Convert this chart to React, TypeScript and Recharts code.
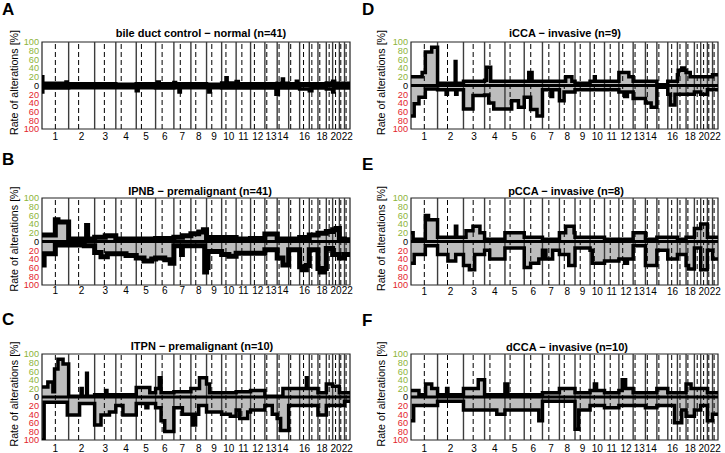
import React from 'react';
import { ComposedChart, Area, Line, XAxis, YAxis, ReferenceLine, ReferenceArea } from 'recharts';

type Seg = [number, number][];

const CHROMOSOMES = ['1','2','3','4','5','6','7','8','9','10','11','12','13','14','15','16','17','18','19','20','21','22'];
const CHR_LENGTH_MB = [249.25,243.2,198.02,191.15,180.92,171.12,159.14,146.36,141.21,135.53,135.01,133.85,115.17,107.35,102.53,90.35,81.2,78.08,59.13,63.03,48.13,51.3];
const CENTROMERE_MB = [125.0,93.3,91.0,50.4,48.4,61.0,59.9,45.6,49.0,40.2,53.7,35.8,17.9,17.6,19.0,36.6,24.0,17.2,26.5,27.5,13.2,14.7];
const LABELED_CHR = ['1','2','3','4','5','6','7','8','9','10','11','12','13','14','16','18','20','22'];
const Y_TICKS = [-100,-80,-60,-40,-20,0,20,40,60,80,100];

// gains / losses per chromosome: [fraction of chromosome where segment starts, % rate]
const controlGain: Seg[] = [
  [[0,20],[0.03,5],[0.9,8],[0.95,4]],[[0,4]],[[0,4]],[[0,3]],[[0,4]],[[0,4],[0.1,8],[0.2,4]],[[0,7],[0.1,4]],[[0,4]],[[0,3]],
  [[0,6],[0.3,18],[0.38,6]],[[0,9],[0.15,4]],[[0,4]],[[0,4]],[[0,5],[0.45,15],[0.55,5]],[[0,4],[0.7,10],[0.8,4]],[[0,4]],[[0,4]],[[0,4]],[[0,6]],[[0,10],[0.3,5]],[[0,5]],[[0,5]],
];
const controlLoss: Seg[] = [
  [[0,15],[0.03,6]],[[0,5]],[[0,5]],[[0,5]],[[0,12],[0.1,5]],[[0,6]],[[0,5],[0.3,15],[0.38,5]],[[0,5]],[[0,5],[0.15,15],[0.25,5]],[[0,6]],[[0,6]],[[0,6]],
  [[0,6],[0.9,20]],[[0,20],[0.1,6]],[[0,6]],[[0,8]],[[0,12],[0.3,6]],[[0,6]],[[0,8]],[[0,15],[0.2,6]],[[0,6]],[[0,6]],
];
const ipnbGain: Seg[] = [
  [[0,15],[0.5,50],[0.6,45]],[[0,6],[0.69,37],[0.73,6]],[[0,10],[0.5,13]],[[0,6]],[[0,6]],[[0,7]],[[0,10],[0.5,13]],[[0,18],[0.5,22],[0.8,27]],[[0,9]],[[0,9]],[[0,6]],[[0,7]],
  [[0,17]],[[0,6]],[[0,6]],[[0,9]],[[0,15]],[[0,19]],[[0,23]],[[0,27],[0.5,30]],[[0,6]],[[0,4]],
];
const ipnbLoss: Seg[] = [
  [[0,54],[0.08,28],[0.5,8]],[[0,8],[0.6,10]],[[0,25],[0.3,35],[0.6,28]],[[0,28],[0.5,32]],[[0,38],[0.4,45],[0.8,40]],[[0,38],[0.5,42],[0.8,50]],[[0,10],[0.45,30],[0.5,10]],[[0,10],[0.88,70]],
  [[0,60],[0.1,23]],[[0,30],[0.5,34]],[[0,27]],[[0,27]],[[0,19]],[[0,38],[0.5,54]],[[0,19]],[[0,58],[0.3,65],[0.7,55]],[[0,19]],[[0,62],[0.3,70],[0.8,62]],[[0,16]],[[0,30]],[[0,38]],[[0,30]],
];
const itpnGain: Seg[] = [
  [[0,23],[0.22,35],[0.41,12],[0.47,65],[0.6,88],[0.79,77]],[[0,2],[0.48,20],[0.52,2],[0.69,55],[0.72,2]],[[0,5],[0.52,15],[0.58,5]],[[0,5]],[[0,22],[0.7,10]],[[0,20],[0.2,45],[0.3,10]],
  [[0,12]],[[0,20],[0.55,45]],[[0,30],[0.2,10]],[[0,10]],[[0,12]],[[0,15]],[[0,2]],[[0,2],[0.5,20]],[[0,20]],[[0,20],[0.7,45],[0.78,20]],[[0,20]],[[0,10]],[[0,30]],[[0,25]],[[0,10]],[[0,10]],
];
const itpnLoss: Seg[] = [
  [[0,100],[0.08,12],[0.95,42]],[[0,42],[0.42,15]],[[0,65],[0.3,42],[0.7,35]],[[0,20],[0.35,42]],[[0,15],[0.5,25],[0.6,15]],[[0,25],[0.3,55],[0.5,80]],[[0,25],[0.5,40]],
  [[0,40],[0.1,65],[0.3,40],[0.5,20]],[[0,35]],[[0,40],[0.6,45]],[[0,30],[0.25,50],[0.8,35]],[[0,30]],[[0,20],[0.6,40]],[[0,50],[0.3,78]],[[0,20]],[[0,20]],[[0,20]],[[0,42]],[[0,20]],[[0,20]],[[0,20]],[[0,10]],
];
const iccaGain: Seg[] = [
  [[0,20],[0.42,30],[0.54,77],[0.78,88]],[[0,5],[0.68,55],[0.71,5]],[[0,10]],[[0,12],[0.1,42],[0.3,10]],[[0,10]],[[0,10],[0.25,30],[0.43,10]],[[0,10]],[[0,10],[0.4,20],[0.8,10]],[[0,5]],
  [[0,10],[0.3,20],[0.36,10]],[[0,10]],[[0,30],[0.7,20]],[[0,10]],[[0,10]],[[0,2]],[[0,10]],[[0,25],[0.1,35],[0.5,40],[0.8,35]],[[0,30],[0.5,20]],[[0,20]],[[0,20]],[[0,20]],[[0,25]],
];
const iccaLoss: Seg[] = [
  [[0,70],[0.12,42],[0.3,27],[0.54,8]],[[0,10],[0.33,20],[0.38,10],[0.7,20],[0.75,10]],[[0,54],[0.45,23]],[[0,22],[0.2,40],[0.45,54]],[[0,54],[0.35,35],[0.7,50]],[[0,27],[0.35,55],[0.7,70]],
  [[0,10],[0.5,25],[0.6,10]],[[0,35],[0.3,15]],[[0,10]],[[0,10]],[[0,10]],[[0,15],[0.4,25],[0.6,15]],[[0,30]],[[0,40],[0.5,50]],[[0,4]],[[0,20],[0.25,45],[0.75,20]],[[0,20]],[[0,20]],[[0,15]],[[0,20]],[[0,10]],[[0,10]],
];
const pccaGain: Seg[] = [
  [[0,20],[0.08,5],[0.54,60],[0.66,50]],[[0,10],[0.69,35],[0.74,10]],[[0,10],[0.12,25],[0.45,35],[0.78,20]],[[0,5]],[[0,20]],[[0,10]],[[0,5]],[[0,20],[0.4,35],[0.94,20]],[[0,10]],[[0,10]],[[0,5]],
  [[0,5]],[[0,20]],[[0,5]],[[0,10]],[[0,10]],[[0,5]],[[0,10]],[[0,30]],[[0,40]],[[0,10]],[[0,10]],
];
const pccaLoss: Seg[] = [
  [[0,50],[0.12,30],[0.54,10]],[[0,30],[0.4,45],[0.7,30]],[[0,55],[0.28,65],[0.53,30]],[[0,20],[0.25,40]],[[0,15]],[[0,60],[0.35,50],[0.8,40]],[[0,20],[0.2,40],[0.6,20]],[[0,30],[0.6,55]],
  [[0,15]],[[0,20],[0.15,50]],[[0,45]],[[0,40],[0.4,50],[0.6,40]],[[0,10]],[[0,55]],[[0,20]],[[0,40]],[[0,30]],[[0,55],[0.3,63]],[[0,15]],[[0,65]],[[0,20]],[[0,40]],
];
const dccaGain: Seg[] = [
  [[0,15],[0.3,5],[0.55,30],[0.78,20]],[[0,5],[0.35,20],[0.4,5]],[[0,20],[0.7,40]],[[0,5]],[[0,30],[0.15,5]],[[0,5]],[[0,10]],[[0,20]],[[0,10]],[[0,15],[0.3,30],[0.45,15]],[[0,10]],
  [[0,15],[0.23,40],[0.47,20]],[[0,10]],[[0,10]],[[0,20]],[[0,10]],[[0,10]],[[0,30],[0.6,20]],[[0,20]],[[0,20]],[[0,10]],[[0,10]],
];
const dccaLoss: Seg[] = [
  [[0,55],[0.1,20]],[[0,10]],[[0,30]],[[0,30],[0.6,40]],[[0,30]],[[0,30],[0.8,55]],[[0,10]],[[0,10]],[[0,75],[0.25,30]],[[0,20]],[[0,25]],[[0,20]],
  [[0,20]],[[0,25]],[[0,20]],[[0,20],[0.7,60]],[[0,60],[0.5,30]],[[0,45]],[[0,30]],[[0,20]],[[0,55]],[[0,40]],
];

const OFFSETS: number[] = CHR_LENGTH_MB.reduce((acc: number[], len, i) => { acc.push(i === 0 ? 0 : acc[i - 1] + CHR_LENGTH_MB[i - 1]); return acc; }, []);
const TOTAL = OFFSETS[21] + CHR_LENGTH_MB[21];
const BOUNDARIES = OFFSETS.slice(1);
const CENTROMERES = OFFSETS.map((o, i) => o + CENTROMERE_MB[i]);
const TICK_POS = LABELED_CHR.map((c) => { const i = CHROMOSOMES.indexOf(c); return OFFSETS[i] + CHR_LENGTH_MB[i] / 2; });

function toPoints(segs: Seg[]) {
  const pts: { x: number; v: number }[] = [];
  segs.forEach((list, ci) => list.forEach(([f, v]) => pts.push({ x: OFFSETS[ci] + f * CHR_LENGTH_MB[ci], v })));
  return pts;
}
function valueAt(pts: { x: number; v: number }[], x: number) {
  let v = pts[0].v;
  for (const p of pts) { if (p.x <= x + 1e-9) v = p.v; else break; }
  return v;
}
function buildRows(gain: Seg[], loss: Seg[]) {
  const gp = toPoints(gain);
  const lp = toPoints(loss);
  const xs = Array.from(new Set([...gp.map((p) => p.x), ...lp.map((p) => p.x), TOTAL])).sort((a, b) => a - b);
  return xs.map((x) => ({ x, gain: valueAt(gp, x), loss: -valueAt(lp, x) }));
}

const GREEN = '#8db43a';
const RED = '#e3232c';
const FONT = '"Liberation Sans", Arial, sans-serif';

type Cfg = {
  letter: string; title: string; gain: Seg[]; loss: Seg[]; lineW: number;
  chartLeft: number; chartWidth: number; plotLeft: number; plotRight: number;
  frameTop: number; frameBottom: number; labelBase: number;
  letterX: number; letterBase: number; titleX: number; titleBase: number; yLabelX: number; yLabelY: number;
};

const PANELS: Cfg[] = [
  { letter: 'A', title: 'bile duct control \u2212 normal (n=41)', gain: controlGain, loss: controlLoss, lineW: 3.5, chartLeft: 0, chartWidth: 362, plotLeft: 42, plotRight: 350, frameTop: 42, frameBottom: 129, labelBase: 140, letterX: 2, letterBase: 15, titleX: 201, titleBase: 37, yLabelX: 17.5, yLabelY: 82.5 },
  { letter: 'B', title: 'IPNB \u2212 premalignant (n=41)', gain: ipnbGain, loss: ipnbLoss, lineW: 5, chartLeft: 0, chartWidth: 362, plotLeft: 42, plotRight: 350, frameTop: 198, frameBottom: 285, labelBase: 294, letterX: 2, letterBase: 165, titleX: 200, titleBase: 194.5, yLabelX: 17.5, yLabelY: 239 },
  { letter: 'C', title: 'ITPN \u2212 premalignant (n=10)', gain: itpnGain, loss: itpnLoss, lineW: 3.5, chartLeft: 0, chartWidth: 362, plotLeft: 42, plotRight: 350, frameTop: 354, frameBottom: 440, labelBase: 451.5, letterX: 2, letterBase: 325, titleX: 202, titleBase: 350, yLabelX: 17.5, yLabelY: 394 },
  { letter: 'D', title: 'iCCA \u2212 invasive (n=9)', gain: iccaGain, loss: iccaLoss, lineW: 3.5, chartLeft: 360, chartWidth: 365, plotLeft: 411, plotRight: 718, frameTop: 42, frameBottom: 129, labelBase: 140, letterX: 362, letterBase: 15, titleX: 565, titleBase: 37, yLabelX: 385, yLabelY: 82.5 },
  { letter: 'E', title: 'pCCA \u2212 invasive (n=8)', gain: pccaGain, loss: pccaLoss, lineW: 3.5, chartLeft: 360, chartWidth: 365, plotLeft: 411, plotRight: 718, frameTop: 198, frameBottom: 285, labelBase: 295, letterX: 362, letterBase: 170, titleX: 566, titleBase: 195, yLabelX: 385, yLabelY: 238.5 },
  { letter: 'F', title: 'dCCA \u2212 invasive (n=10)', gain: dccaGain, loss: dccaLoss, lineW: 3.5, chartLeft: 360, chartWidth: 365, plotLeft: 411, plotRight: 718, frameTop: 354, frameBottom: 440, labelBase: 452, letterX: 362, letterBase: 326, titleX: 567, titleBase: 350.5, yLabelX: 385, yLabelY: 394 },
];

function Panel({ cfg }: { cfg: Cfg }) {
  const rows = buildRows(cfg.gain, cfg.loss);
  const top = cfg.frameTop - 30;
  const plotH = cfg.frameBottom - cfg.frameTop;
  const height = 30 + plotH + 25;
  const yAxisW = cfg.plotLeft - cfg.chartLeft;
  const marginRight = cfg.chartLeft + cfg.chartWidth - cfg.plotRight;
  const labelDy = cfg.labelBase - cfg.frameBottom;
  const xTick = (p: any) => {
    const idx = TICK_POS.findIndex((t) => Math.abs(t - p.payload.value) < 0.01);
    return (
      <text x={p.x} y={p.y + labelDy} textAnchor="middle" fontSize={10} fontFamily={FONT} fill="#000">
        {idx >= 0 ? LABELED_CHR[idx] : ''}
      </text>
    );
  };
  const yTick = (p: any) => {
    const v = p.payload.value;
    return (
      <text x={p.x - 3} y={p.y + 3.3} textAnchor="end" fontSize={9.2} fontFamily={FONT} fill={v > 0 ? GREEN : v < 0 ? RED : '#000'}>
        {Math.abs(v)}
      </text>
    );
  };
  return (
    <div style={{ position: 'absolute', left: cfg.chartLeft, top }}>
      <ComposedChart width={cfg.chartWidth} height={height} data={rows} margin={{ top: 30, right: marginRight, bottom: 0, left: 0 }}>
        <XAxis dataKey="x" type="number" domain={[0, TOTAL]} ticks={TICK_POS} tick={xTick} tickLine={false} axisLine={false} tickSize={0} tickMargin={0} height={25} interval={0} allowDataOverflow />
        <YAxis type="number" domain={[-100, 100]} ticks={Y_TICKS} tick={yTick} width={yAxisW} tickLine={false} axisLine={false} tickSize={0} tickMargin={0} interval={0} allowDataOverflow />
        <Area dataKey="gain" type="stepAfter" fill="#bdbdbd" fillOpacity={1} stroke="none" baseValue={0} isAnimationActive={false} />
        <Area dataKey="loss" type="stepAfter" fill="#bdbdbd" fillOpacity={1} stroke="none" baseValue={0} isAnimationActive={false} />
        {BOUNDARIES.map((b) => (
          <ReferenceLine key={'b' + b} x={b} stroke="#3c3c3c" strokeWidth={1.4} />
        ))}
        {CENTROMERES.map((c) => (
          <ReferenceLine key={'c' + c} x={c} stroke="#000" strokeWidth={1} strokeDasharray="5 3" />
        ))}
        <ReferenceLine y={0} stroke="#000" strokeWidth={2.8} />
        <Line dataKey="gain" type="stepAfter" stroke="#000" strokeWidth={cfg.lineW} dot={false} isAnimationActive={false} />
        <Line dataKey="loss" type="stepAfter" stroke="#000" strokeWidth={cfg.lineW} dot={false} isAnimationActive={false} />
        <ReferenceArea x1={0} x2={TOTAL} y1={-100} y2={100} fill="none" fillOpacity={0} stroke="#222" strokeWidth={1.2} />
      </ComposedChart>
    </div>
  );
}

export default function App() {
  return (
    <div style={{ position: 'absolute', left: 0, top: 0, width: 725, height: 453, background: '#fff', overflow: 'hidden' }}>
      {PANELS.map((p) => (
        <Panel key={p.letter} cfg={p} />
      ))}
      <svg width={725} height={453} style={{ position: 'absolute', left: 0, top: 0, pointerEvents: 'none' }}>
        {PANELS.map((p) => (
          <g key={'t' + p.letter} fontFamily={FONT}>
            <text x={p.letterX} y={p.letterBase} fontSize={17} fontWeight="bold" fill="#000">{p.letter}</text>
            <text x={p.titleX} y={p.titleBase} fontSize={11} fontWeight="bold" textAnchor="middle" fill="#000">{p.title}</text>
            <text x={p.yLabelX} y={p.yLabelY} fontSize={10.7} textAnchor="middle" fill="#000" transform={`rotate(-90 ${p.yLabelX} ${p.yLabelY})`}>Rate of alterations [%]</text>
          </g>
        ))}
      </svg>
    </div>
  );
}
